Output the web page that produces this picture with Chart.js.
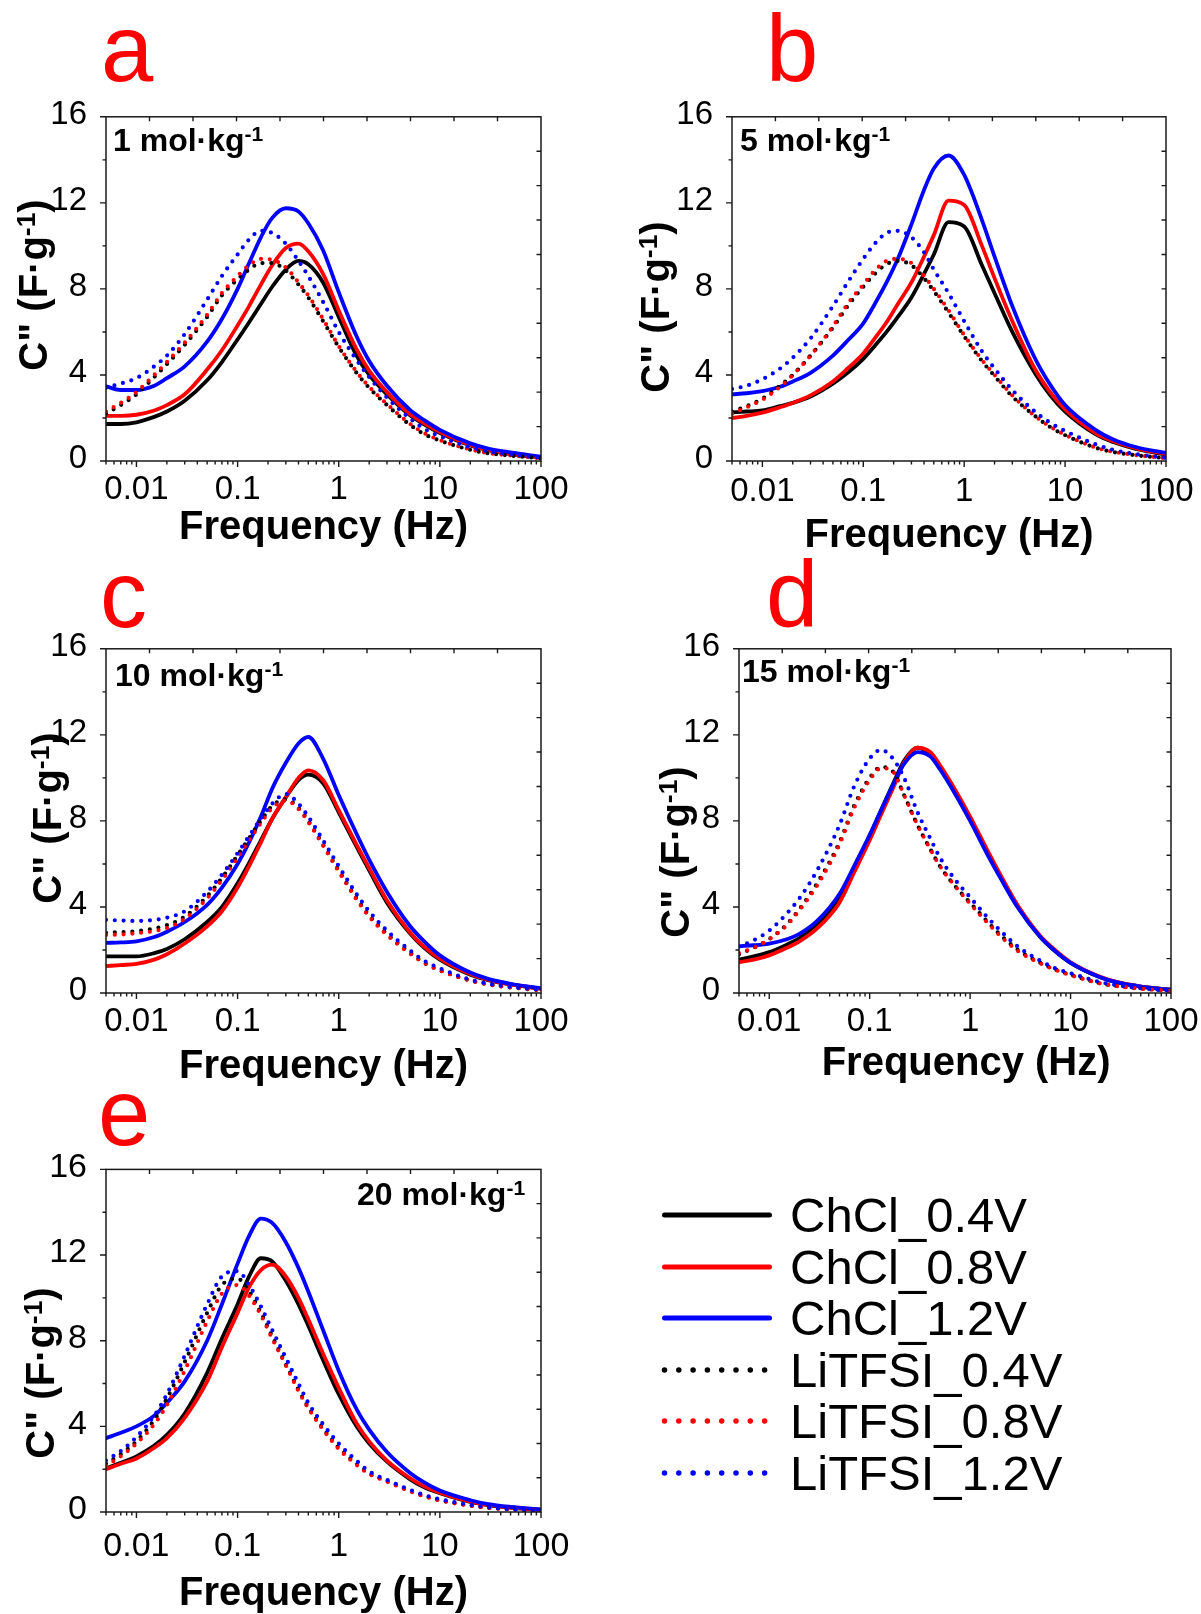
<!DOCTYPE html>
<html>
<head>
<meta charset="utf-8">
<title>C'' vs frequency</title>
<script src="https://cdn.jsdelivr.net/npm/chart.js@4/dist/chart.umd.min.js"></script>
<style>
  html, body { margin: 0; padding: 0; background: #fff; }
  body { position: relative; width: 1201px; height: 1614px; overflow: hidden;
         font-family: "Liberation Sans", Arial, sans-serif; color: #000; }
  canvas { position: absolute; }
  .letter { position: absolute; color: #ff0000; font-size: 94px; line-height: 1; }
  .conc { position: absolute; font-weight: bold; font-size: 32px; line-height: 1; white-space: nowrap; }
  .ytitle { position: absolute; width: 300px; height: 50px; line-height: 50px; text-align: center;
            font-weight: bold; font-size: 40px; white-space: nowrap; transform: rotate(-90deg); }
  .sup { position: relative; top: -0.45em; font-size: 0.66em; }
  .legtext { position: absolute; font-size: 49px; line-height: 1; white-space: nowrap; }
  #legendLines { position: absolute; left: 640px; top: 1180px; }
</style>
</head>
<body>
<script>
// ---- data: imaginary capacitance C'' (F/g) versus frequency (Hz) ----
const FREQ = [0.005, 0.007, 0.01, 0.015, 0.02, 0.03, 0.05, 0.07, 0.1, 0.13, 0.17, 0.22, 0.3, 0.4,
              0.5, 0.7, 1, 1.5, 2, 3, 5, 7, 10, 20, 30, 50, 100];

const SERIES_NAMES  = ['ChCl_0.4V', 'ChCl_0.8V', 'ChCl_1.2V', 'LiTFSI_0.4V', 'LiTFSI_0.8V', 'LiTFSI_1.2V'];
const SERIES_COLORS = ['#000000', '#ff0000', '#0000ff', '#000000', '#ff0000', '#0000ff'];
const SERIES_DOTTED = [false, false, false, true, true, true];

const X_LABELS = [0.01, 0.1, 1, 10, 100];
const Y_LABELS = [0, 4, 8, 12, 16];
const Y_MINOR  = [2, 6, 10, 14];
const PANEL_LETTERS = ['a', 'b', 'c', 'd', 'e'];
const CONCENTRATIONS = ['1', '5', '10', '15', '20'];

// 1 mol/kg
const a_ChCl_04   = [1.72,1.72,1.8,2.05,2.3,2.8,3.75,4.6,5.65,6.45,7.3,8.1,8.9,9.3,9.15,8.3,6.7,4.9,4.0,3.1,2.15,1.7,1.3,0.72,0.5,0.32,0.16];
const a_ChCl_08   = [2.1,2.1,2.15,2.35,2.6,3.1,4.25,5.15,6.3,7.2,8.2,9.1,9.9,10.1,9.75,8.7,7.0,5.2,4.2,3.2,2.2,1.75,1.35,0.75,0.52,0.34,0.17];
const a_ChCl_12   = [3.47,3.3,3.3,3.5,3.85,4.4,5.55,6.6,8.0,9.2,10.4,11.3,11.75,11.6,11.05,9.8,7.85,5.8,4.65,3.5,2.4,1.9,1.45,0.82,0.58,0.4,0.2];
const a_LiTFSI_04 = [2.2,2.6,3.1,3.9,4.5,5.4,6.7,7.7,8.45,8.9,9.2,9.2,8.85,8.2,7.6,6.5,5.3,4.1,3.4,2.6,1.7,1.25,0.95,0.52,0.36,0.25,0.13];
const a_LiTFSI_08 = [2.3,2.7,3.2,4.0,4.6,5.5,6.8,7.8,8.6,9.1,9.4,9.35,9.0,8.3,7.7,6.6,5.35,4.15,3.45,2.65,1.75,1.3,0.97,0.54,0.37,0.26,0.13];
const a_LiTFSI_12 = [3.4,3.6,3.85,4.4,4.9,5.9,7.5,8.6,9.6,10.3,10.7,10.6,10.1,9.3,8.6,7.4,6.0,4.7,3.9,2.95,2.0,1.5,1.15,0.64,0.45,0.3,0.15];

// 5 mol/kg
const b_ChCl_04   = [2.26,2.3,2.35,2.55,2.7,3.0,3.6,4.1,4.75,5.35,6.0,6.7,7.6,8.7,9.6,11.1,10.9,9.1,7.8,6.0,4.1,3.1,2.3,1.25,0.88,0.56,0.3];
const b_ChCl_08   = [2.0,2.1,2.25,2.5,2.7,3.05,3.7,4.3,5.0,5.7,6.45,7.3,8.3,9.5,10.5,12.1,11.9,10.0,8.5,6.5,4.3,3.25,2.4,1.3,0.92,0.6,0.32];
const b_ChCl_12   = [3.1,3.15,3.25,3.45,3.7,4.1,4.9,5.6,6.4,7.3,8.3,9.4,11.0,12.6,13.6,14.2,13.3,11.2,9.5,7.2,4.8,3.6,2.6,1.45,1.0,0.65,0.38];
const b_LiTFSI_04 = [2.3,2.55,2.9,3.5,4.0,4.9,6.2,7.2,8.1,8.7,9.15,9.3,9.1,8.5,7.9,6.9,5.8,4.65,3.95,3.0,2.1,1.6,1.2,0.62,0.42,0.27,0.13];
const b_LiTFSI_08 = [2.2,2.5,2.85,3.45,4.0,4.9,6.25,7.3,8.2,8.85,9.3,9.4,9.2,8.6,8.0,7.0,5.85,4.7,4.0,3.05,2.1,1.62,1.22,0.63,0.43,0.28,0.13];
const b_LiTFSI_12 = [3.35,3.5,3.8,4.3,4.8,5.7,7.2,8.3,9.4,10.1,10.6,10.7,10.4,9.7,8.9,7.8,6.5,5.1,4.3,3.3,2.3,1.8,1.4,0.78,0.52,0.32,0.15];

// 10 mol/kg
const c_ChCl_04   = [1.7,1.7,1.7,1.85,2.05,2.5,3.3,4.0,5.1,6.05,7.1,8.1,9.1,9.9,10.15,9.75,8.4,6.8,5.7,4.2,2.8,2.1,1.55,0.85,0.6,0.4,0.2];
const c_ChCl_08   = [1.25,1.3,1.35,1.55,1.8,2.3,3.1,3.8,4.9,5.9,7.0,8.1,9.1,10.0,10.35,9.9,8.5,6.9,5.8,4.3,2.85,2.15,1.6,0.88,0.62,0.4,0.2];
const c_ChCl_12   = [2.33,2.35,2.4,2.6,2.85,3.3,4.1,4.9,6.0,7.0,8.2,9.5,10.7,11.6,11.9,10.9,9.2,7.4,6.2,4.7,3.15,2.4,1.75,0.95,0.66,0.43,0.22];
const c_LiTFSI_04 = [2.8,2.83,2.87,3.0,3.15,3.55,4.5,5.35,6.4,7.2,8.0,8.7,9.0,8.6,8.0,6.9,5.7,4.4,3.6,2.75,1.9,1.4,1.05,0.58,0.4,0.26,0.13];
const c_LiTFSI_08 = [2.7,2.72,2.78,2.88,3.02,3.45,4.4,5.25,6.3,7.1,7.9,8.6,8.95,8.55,7.95,6.85,5.65,4.35,3.55,2.7,1.85,1.4,1.05,0.58,0.4,0.26,0.13];
const c_LiTFSI_12 = [3.4,3.37,3.35,3.4,3.5,3.8,4.7,5.5,6.5,7.3,8.1,8.8,9.25,8.8,8.2,7.1,5.9,4.6,3.8,2.9,2.0,1.5,1.15,0.62,0.43,0.28,0.15];

// 15 mol/kg
const d_ChCl_04   = [1.55,1.7,1.9,2.25,2.55,3.2,4.4,5.85,7.3,8.5,9.7,10.8,11.4,11.1,10.5,9.4,8.1,6.5,5.4,4.0,2.6,1.95,1.4,0.72,0.48,0.3,0.15];
const d_ChCl_08   = [1.43,1.55,1.75,2.1,2.4,3.0,4.2,5.6,7.1,8.3,9.5,10.7,11.4,11.2,10.6,9.5,8.2,6.6,5.5,4.05,2.65,2.0,1.43,0.74,0.49,0.3,0.15];
const d_ChCl_12   = [2.18,2.22,2.3,2.5,2.75,3.35,4.6,5.9,7.35,8.5,9.65,10.65,11.2,11.0,10.4,9.3,8.0,6.4,5.35,3.95,2.6,1.95,1.4,0.72,0.48,0.3,0.15];
const d_LiTFSI_04 = [1.8,2.1,2.5,3.2,3.9,5.1,7.0,8.7,10.0,10.5,10.3,9.2,7.8,6.7,5.9,5.0,4.2,3.3,2.7,2.0,1.4,1.1,0.85,0.45,0.32,0.21,0.1];
const d_LiTFSI_08 = [1.85,2.1,2.5,3.15,3.85,5.0,6.9,8.6,9.9,10.45,10.3,9.2,7.8,6.7,5.9,5.0,4.15,3.25,2.65,1.95,1.38,1.08,0.83,0.44,0.31,0.2,0.1];
const d_LiTFSI_12 = [2.15,2.45,2.9,3.7,4.4,5.7,7.8,9.6,10.9,11.3,10.9,10.0,8.4,7.2,6.3,5.3,4.45,3.5,2.9,2.15,1.5,1.15,0.92,0.5,0.35,0.22,0.1];

// 20 mol/kg
const e_ChCl_04   = [2.03,2.3,2.6,3.1,3.6,4.6,6.5,8.1,9.7,11.0,11.85,11.7,10.8,9.7,8.7,7.1,5.5,4.0,3.2,2.35,1.55,1.15,0.88,0.47,0.32,0.2,0.1];
const e_ChCl_08   = [2.0,2.25,2.5,3.0,3.45,4.4,6.1,7.7,9.3,10.5,11.3,11.55,11.0,10.0,9.0,7.4,5.8,4.15,3.3,2.4,1.6,1.2,0.9,0.48,0.33,0.21,0.1];
const e_ChCl_12   = [3.45,3.7,4.0,4.5,5.1,6.1,8.0,9.7,11.6,12.9,13.7,13.5,12.6,11.4,10.3,8.5,6.6,4.8,3.85,2.8,1.85,1.38,1.0,0.55,0.37,0.24,0.12];
const e_LiTFSI_04 = [2.25,2.7,3.3,4.3,5.3,7.0,9.3,10.6,10.9,10.3,9.3,8.2,6.9,5.7,4.9,3.9,3.0,2.25,1.8,1.45,1.0,0.75,0.55,0.3,0.2,0.12,0.06];
const e_LiTFSI_08 = [2.15,2.6,3.2,4.1,5.0,6.6,8.9,10.2,10.6,10.1,9.2,8.1,6.85,5.65,4.85,3.85,2.95,2.2,1.78,1.42,0.98,0.73,0.54,0.29,0.19,0.12,0.06];
const e_LiTFSI_12 = [2.4,2.85,3.5,4.5,5.5,7.3,9.7,11.0,11.25,10.6,9.6,8.5,7.2,6.0,5.1,4.1,3.2,2.4,1.9,1.5,1.05,0.8,0.6,0.33,0.22,0.13,0.06];

const PANEL_SERIES = [
  [a_ChCl_04, a_ChCl_08, a_ChCl_12, a_LiTFSI_04, a_LiTFSI_08, a_LiTFSI_12],
  [b_ChCl_04, b_ChCl_08, b_ChCl_12, b_LiTFSI_04, b_LiTFSI_08, b_LiTFSI_12],
  [c_ChCl_04, c_ChCl_08, c_ChCl_12, c_LiTFSI_04, c_LiTFSI_08, c_LiTFSI_12],
  [d_ChCl_04, d_ChCl_08, d_ChCl_12, d_LiTFSI_04, d_LiTFSI_08, d_LiTFSI_12],
  [e_ChCl_04, e_ChCl_08, e_ChCl_12, e_LiTFSI_04, e_LiTFSI_08, e_LiTFSI_12]
];

// ---- page layout (pixels) ----
const Y_AXIS_W = 106, PAD_T = 25, PAD_R = 40, X_AXIS_H = 110;
const LAYOUT = [
  { L: 106, T: 111,  R: 541,  B: 461,  xPad: 1.5, tickSize: 33, titlePad: 19, lead: 0,
    letter: [101, 82],   conc: [113, 151],  ytitle: [33, 285] },
  { L: 732, T: 111,  R: 1166, B: 461,  xPad: 3.5, tickSize: 33, titlePad: 11, lead: 0,
    letter: [766, 82],   conc: [740, 151],  ytitle: [655, 307] },
  { L: 106, T: 643,  R: 541,  B: 993,  xPad: 1.5, tickSize: 33, titlePad: 12, lead: 0,
    letter: [100, 628],  conc: [115, 686],  ytitle: [47, 818] },
  { L: 739, T: 643,  R: 1171, B: 993,  xPad: 1.5, tickSize: 33, titlePad: 15, lead: 2,
    letter: [766, 628],  conc: [742, 682],  ytitle: [675, 852] },
  { L: 106, T: 1163, R: 541,  B: 1512, xPad: 6,   tickSize: 34, titlePad: 4,  lead: 0,
    letter: [98, 1146],  conc: [357, 1205], ytitle: [40, 1373] }
];

Chart.defaults.font.family = '"Liberation Sans", Arial, sans-serif';
Chart.defaults.color = '#000';

// frame around the plot area with outward ticks (left, bottom) and
// evenly spaced inward ticks on the mirrored top and right edges
const frameTicks = {
  id: 'frameTicks',
  afterDatasetsDraw(chart) {
    const { ctx, chartArea: ca, scales } = chart;
    const { x, y, xTop, yRight } = scales;
    ctx.save();
    ctx.strokeStyle = '#1a1a1a';
    ctx.lineWidth = 1.4;
    ctx.beginPath();
    X_LABELS.forEach(v => { const p = x.getPixelForValue(v); ctx.moveTo(p, ca.bottom); ctx.lineTo(p, ca.bottom + 6); });
    for (let d = 0.001; d < 100; d *= 10) {
      for (let k = 2; k <= 9; k++) {
        const v = k * d;
        if (v < x.min || v > x.max) continue;
        const p = x.getPixelForValue(v);
        ctx.moveTo(p, ca.bottom); ctx.lineTo(p, ca.bottom + 3.5);
      }
    }
    Y_LABELS.forEach(v => { const p = y.getPixelForValue(v); ctx.moveTo(ca.left, p); ctx.lineTo(ca.left - 6, p); });
    Y_MINOR.forEach(v => { const p = y.getPixelForValue(v); ctx.moveTo(ca.left, p); ctx.lineTo(ca.left - 3.5, p); });
    for (let k = 1; k < 10; k++) {
      const px = xTop.getPixelForValue(k);
      ctx.moveTo(px, ca.top); ctx.lineTo(px, ca.top + 4.5);
      const py = yRight.getPixelForValue(k);
      ctx.moveTo(ca.right, py); ctx.lineTo(ca.right - 4.5, py);
    }
    ctx.stroke();
    ctx.lineWidth = 1.5;
    ctx.strokeRect(ca.left, ca.top, ca.right - ca.left, ca.bottom - ca.top);
    ctx.restore();
  }
};

function addHtml(cls, html, left, top, extra) {
  const el = document.createElement('div');
  el.className = cls;
  el.innerHTML = html;
  el.style.left = left + 'px';
  el.style.top = top + 'px';
  if (extra) Object.assign(el.style, extra);
  document.body.appendChild(el);
  return el;
}

function makePanel(idx) {
  const box = LAYOUT[idx];
  const series = PANEL_SERIES[idx];
  const W = (box.R - box.L) + Y_AXIS_W + PAD_R;
  const H = (box.B - box.T) + PAD_T + X_AXIS_H;
  const cv = document.createElement('canvas');
  cv.width = W; cv.height = H;
  cv.style.width = W + 'px'; cv.style.height = H + 'px';
  cv.style.left = (box.L - Y_AXIS_W) + 'px';
  cv.style.top = (box.T - PAD_T) + 'px';
  document.body.appendChild(cv);

  const tickFont = { size: box.tickSize, weight: 'normal' };
  new Chart(cv, {
    type: 'line',
    data: {
      datasets: series.map((vals, i) => ({
        label: SERIES_NAMES[i],
        data: FREQ.map((f, k) => ({ x: f, y: vals[k] })),
        borderColor: SERIES_COLORS[i],
        backgroundColor: SERIES_COLORS[i],
        borderWidth: SERIES_DOTTED[i] ? 4.2 : 3.8,
        borderDash: SERIES_DOTTED[i] ? [0, 8.8] : [],
        borderCapStyle: 'round',
        borderJoinStyle: 'round',
        cubicInterpolationMode: 'monotone',
        pointRadius: 0,
        fill: false,
        order: SERIES_NAMES.length - i
      }))
    },
    options: {
      responsive: false,
      animation: false,
      devicePixelRatio: 1,
      events: [],
      layout: { padding: { top: PAD_T, right: PAD_R, left: 0, bottom: 0 } },
      plugins: { legend: { display: false }, tooltip: { enabled: false } },
      scales: {
        x: {
          type: 'logarithmic', position: 'bottom', min: 0.005, max: 100,
          afterBuildTicks: s => { s.ticks = X_LABELS.map(v => ({ value: v })); },
          afterFit: s => { s.height = X_AXIS_H; },
          grid: { display: false }, border: { display: false },
          ticks: { autoSkip: false, maxRotation: 0, minRotation: 0, padding: box.xPad,
                   color: '#000', font: tickFont, callback: v => String(v) },
          title: { display: true, text: '\u00a0'.repeat(box.lead) + 'Frequency (Hz)', color: '#000',
                   font: { size: 40, weight: 'bold' }, padding: { top: 0, bottom: box.titlePad } }
        },
        y: {
          type: 'linear', position: 'left', min: 0, max: 16,
          afterBuildTicks: s => { s.ticks = Y_LABELS.map(v => ({ value: v })); },
          afterFit: s => { s.width = Y_AXIS_W; },
          grid: { display: false }, border: { display: false },
          ticks: { padding: 11, color: '#000', font: tickFont, labelOffset: -2 }
        },
        xTop:   { type: 'linear', position: 'top',   min: 0, max: 10, display: false },
        yRight: { type: 'linear', position: 'right', min: 0, max: 10, display: false }
      }
    },
    plugins: [frameTicks]
  });

  // panel letter, concentration note and rotated y-axis title
  addHtml('letter', PANEL_LETTERS[idx], box.letter[0], box.letter[1] - 0.8465 * 94);
  addHtml('conc', CONCENTRATIONS[idx] + ' mol\u00b7kg<span class="sup">-1</span>',
          box.conc[0], box.conc[1] - 0.8465 * 32);
  addHtml('ytitle', 'C" (F\u00b7g<span class="sup">-1</span>)', box.ytitle[0] - 150, box.ytitle[1] - 25);
}

for (let i = 0; i < LAYOUT.length; i++) makePanel(i);

// ---- legend ----
const LEG_ROWS = [1215, 1267, 1318, 1370, 1421, 1473];
const LEG_X0 = 662, LEG_X1 = 772, LEG_TEXT_X = 790;
(function buildLegend() {
  const svgNS = 'http://www.w3.org/2000/svg';
  const svg = document.createElementNS(svgNS, 'svg');
  svg.setAttribute('id', 'legendLines');
  svg.setAttribute('width', '160');
  svg.setAttribute('height', '320');
  const ox = 640, oy = 1180;
  SERIES_NAMES.forEach((name, i) => {
    const yRow = LEG_ROWS[i];
    const ln = document.createElementNS(svgNS, 'line');
    ln.setAttribute('x1', LEG_X0 + 2.5 - ox);
    ln.setAttribute('x2', (SERIES_DOTTED[i] ? LEG_X1 - 7 : LEG_X1 - 2.5) - ox);
    ln.setAttribute('y1', yRow - oy);
    ln.setAttribute('y2', yRow - oy);
    ln.setAttribute('stroke', SERIES_COLORS[i]);
    ln.setAttribute('stroke-linecap', 'round');
    ln.setAttribute('stroke-width', SERIES_DOTTED[i] ? '5.5' : '5');
    if (SERIES_DOTTED[i]) ln.setAttribute('stroke-dasharray', '0 14.3');
    svg.appendChild(ln);
    addHtml('legtext', name, LEG_TEXT_X, yRow + 0.358 * 49 - 0.8465 * 49);
  });
  document.body.appendChild(svg);
})();
</script>
</body>
</html>
